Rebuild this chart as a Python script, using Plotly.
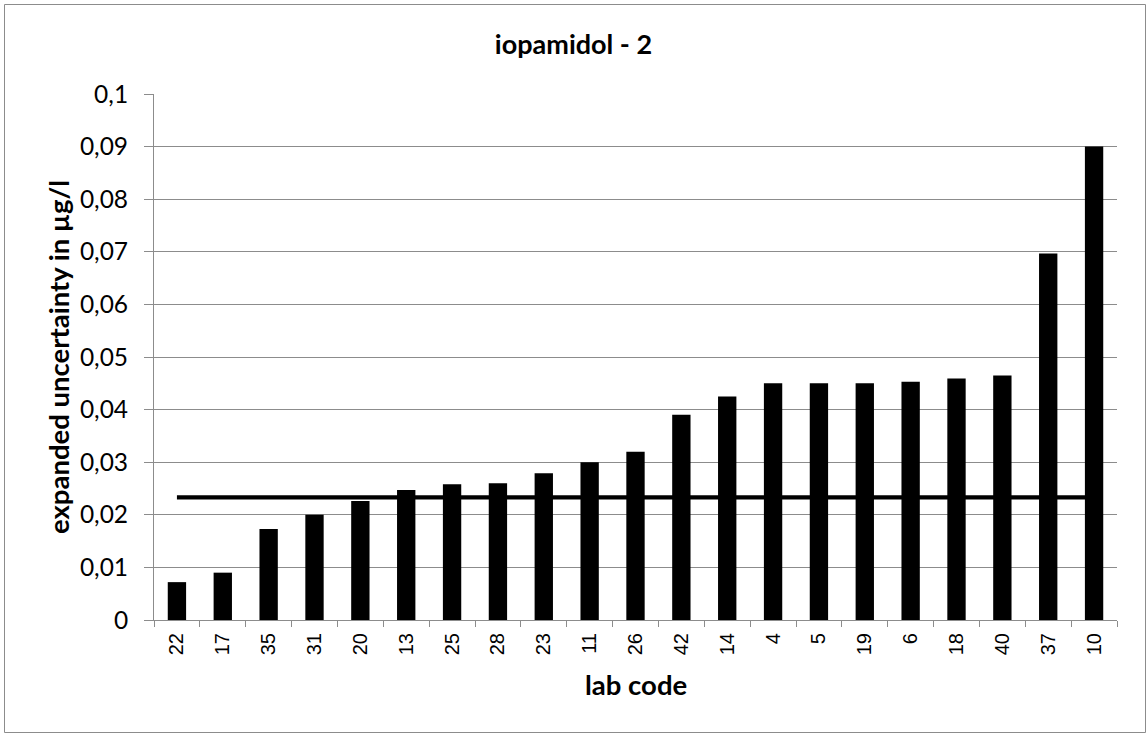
import plotly.graph_objects as go

# Lab codes, sorted by expanded uncertainty
lab_codes = ["22", "17", "35", "31", "20", "13", "25", "28", "23", "11", "26",
             "42", "14", "4", "5", "19", "6", "18", "40", "37", "10"]
uncertainty = [0.0072, 0.0090, 0.0173, 0.0200, 0.0226, 0.0247, 0.0258, 0.0260,
               0.0279, 0.0300, 0.0320, 0.0390, 0.0425, 0.0450, 0.0450, 0.0450,
               0.0453, 0.0459, 0.0465, 0.0697, 0.0900]
reference_level = 0.0233

W, H = 1147, 735
L, R, T, B = 154, 30, 94, 115
pw, ph = W - L - R, H - T - B


def px_x(x):
    return (x - L) / pw


def px_y(y):
    return (H - B - y) / ph


GRID = "#8c8c8c"

fig = go.Figure()
fig.add_trace(go.Bar(
    x=lab_codes, y=uncertainty,
    marker=dict(color="black", line=dict(width=0)),
    showlegend=False, hoverinfo="x+y",
))
fig.add_trace(go.Scatter(
    x=[lab_codes[0], lab_codes[-1]], y=[reference_level, reference_level],
    mode="lines", line=dict(color="black", width=4.3),
    showlegend=False,
))

fig.update_layout(
    width=W, height=H,
    margin=dict(l=L, r=R, t=T, b=B),
    paper_bgcolor="white", plot_bgcolor="white",
    separators=", ",
    bargap=0.6,
    title=dict(text="<b>iopamidol - 2</b>", x=0.5, xref="container",
               y=1 - 45 / H, yref="container", xanchor="center", yanchor="middle",
               font=dict(family="Lato", size=27, color="black")),
    xaxis=dict(
        type="category", range=[-0.5, len(lab_codes) - 0.5],
        tickangle=-90, tickson="boundaries", ticks="outside", ticklen=6,
        tickcolor=GRID, showline=True, linecolor=GRID, linewidth=1,
        showgrid=False, ticklabelstandoff=4,
        tickfont=dict(family="Liberation Sans", size=20, color="black"),
    ),
    yaxis=dict(
        range=[0, 0.1], dtick=0.01, tick0=0,
        ticks="outside", ticklen=9, tickcolor=GRID,
        showline=True, linecolor=GRID, linewidth=1,
        showgrid=True, gridcolor=GRID, gridwidth=1, zeroline=False,
        ticklabelstandoff=11,
        tickfont=dict(family="Lato", size=24.5, color="black"),
    ),
    annotations=[
        dict(text="<b>expanded uncertainty in µg/l</b>", textangle=-90,
             x=px_x(58), y=0.5, xref="paper", yref="paper",
             xanchor="center", yanchor="middle", showarrow=False,
             font=dict(family="Lato", size=27.5, color="black")),
        dict(text="<b>lab code</b>",
             x=0.5, y=px_y(684), xref="paper", yref="paper",
             xanchor="center", yanchor="middle", showarrow=False,
             font=dict(family="Lato", size=27.5, color="black")),
    ],
    shapes=[
        dict(type="rect", xref="paper", yref="paper",
             x0=px_x(4.5), x1=px_x(1145.5), y0=px_y(732.5), y1=px_y(4.5),
             line=dict(color=GRID, width=1), fillcolor="rgba(0,0,0,0)",
             layer="below"),
    ],
)

fig.write_html("out.html")
